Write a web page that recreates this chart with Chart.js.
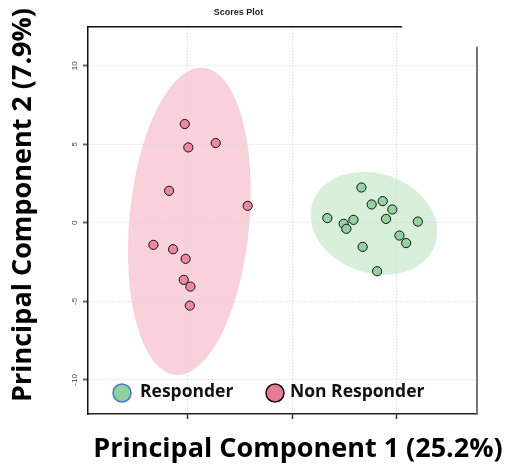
<!DOCTYPE html>
<html>
<head>
<meta charset="utf-8">
<script src="https://cdn.jsdelivr.net/npm/chart.js@4/dist/chart.umd.min.js"></script>
<style>
  html, body { margin: 0; padding: 0; background: #ffffff; }
  #wrap { width: 522px; height: 472px; position: relative; }
</style>
</head>
<body>
<div id="wrap"><canvas id="c" width="522" height="472"></canvas></div>
<script>
// ---- data ----
const groupLabels = ["Responder", "Non Responder"];
const responderX = [3.30, 3.79, 4.32, 4.78, 4.48, 1.67, 2.92, 2.45, 2.58, 6.00, 5.12, 5.44, 3.36, 4.05];
const responderY = [2.25, 1.17, 1.38, 0.85, 0.25, 0.30, 0.19, -0.06, -0.38, 0.08, -0.81, -1.29, -1.53, -3.08];
const nonResponderX = [-5.15, -4.98, -3.67, -5.90, -2.14, -6.65, -5.71, -5.11, -5.20, -4.88, -4.91];
const nonResponderY = [6.29, 4.80, 5.08, 2.04, 1.08, -1.40, -1.68, -2.29, -3.63, -4.06, -5.27];
const yTickValues = [-10, -5, 0, 5, 10];
const xTickValues = [-5, 0, 5];
const xRange = [-9.78, 8.83];
const yRange = [-12.17, 12.48];
// confidence ellipses: centre, and two conjugate semi-axis vectors (data units)
const responderEllipse = { cx: 3.90, cy: -0.03, ux: 2.94, uy: -1.31, vx: -0.75, vy: -3.01 };
const nonResponderEllipse = { cx: -4.93, cy: 0.10, ux: 0.67, uy: 9.78, vx: 2.86, vy: -0.34 };
const titleText = "Scores Plot";
const xTitle = "Principal Component 1 (25.2%)";
const yTitle = "Principal Component 2 (7.9%)";

const toPoints = (xs, ys) => xs.map((x, i) => ({ x: x, y: ys[i] }));

const greenFill = '#93d3a0', pinkFill = '#ee879f';
const greenEll = '#d8efdb', pinkEll = '#f9d1db';
const bigFont = '"Open Sans", Lato, sans-serif';

function drawEllipse(ctx, xs, ys, e, color) {
  const cx = xs.getPixelForValue(e.cx), cy = ys.getPixelForValue(e.cy);
  const ux = xs.getPixelForValue(e.cx + e.ux) - cx, uy = ys.getPixelForValue(e.cy + e.uy) - cy;
  const vx = xs.getPixelForValue(e.cx + e.vx) - cx, vy = ys.getPixelForValue(e.cy + e.vy) - cy;
  ctx.save();
  ctx.transform(ux, uy, vx, vy, cx, cy);
  ctx.beginPath();
  ctx.arc(0, 0, 1, 0, Math.PI * 2);
  ctx.restore();
  ctx.save();
  ctx.fillStyle = color;
  ctx.fill();
  ctx.restore();
}

const overlay = {
  id: 'overlay',
  beforeDraw(chart) {
    const { ctx, scales } = chart;
    drawEllipse(ctx, scales.x, scales.y, nonResponderEllipse, pinkEll);
    drawEllipse(ctx, scales.x, scales.y, responderEllipse, greenEll);
  },
  afterDraw(chart) {
    const { ctx, chartArea: a, scales } = chart;
    ctx.save();
    // remaining frame sides
    ctx.strokeStyle = '#111'; ctx.lineWidth = 1.5;
    ctx.beginPath(); ctx.moveTo(a.left, a.top); ctx.lineTo(a.left + (a.right - a.left) * 0.807, a.top); ctx.stroke();
    ctx.strokeStyle = '#777'; ctx.lineWidth = 2;
    ctx.beginPath(); ctx.moveTo(a.right, a.top + 20); ctx.lineTo(a.right, a.bottom); ctx.stroke();
    // y tick labels (rotated)
    ctx.fillStyle = '#444';
    ctx.font = '8px "Liberation Sans", Arial, sans-serif';
    ctx.textAlign = 'center'; ctx.textBaseline = 'middle';
    yTickValues.forEach(v => {
      const py = scales.y.getPixelForValue(v);
      ctx.save(); ctx.translate(a.left - 13, py); ctx.rotate(-Math.PI / 2);
      ctx.fillText(String(v), 0, 0); ctx.restore();
    });
    // axis titles
    ctx.fillStyle = '#000';
    ctx.font = 'bold 27px ' + bigFont;
    ctx.textAlign = 'center'; ctx.textBaseline = 'middle';
    ctx.fillText(xTitle, 298, 449);
    ctx.save(); ctx.translate(23, 205); ctx.rotate(-Math.PI / 2);
    ctx.fillText(yTitle, 0, 0); ctx.restore();
    // legend
    const items = [
      { label: groupLabels[0], fill: '#8fd19c', stroke: '#4a78c8', cx: 122, tx: 140 },
      { label: groupLabels[1], fill: '#e97a95', stroke: '#111', cx: 275, tx: 290 }
    ];
    ctx.font = 'bold 17.5px ' + bigFont;
    ctx.textAlign = 'left';
    items.forEach(it => {
      ctx.beginPath(); ctx.arc(it.cx, 393, 9, 0, Math.PI * 2);
      ctx.fillStyle = it.fill; ctx.fill();
      ctx.lineWidth = 1.5; ctx.strokeStyle = it.stroke; ctx.stroke();
      ctx.fillStyle = '#111';
      ctx.fillText(it.label, it.tx, 392);
    });
    ctx.restore();
  }
};

new Chart(document.getElementById('c'), {
  type: 'scatter',
  data: {
    datasets: [
      { label: groupLabels[1], data: toPoints(nonResponderX, nonResponderY),
        backgroundColor: pinkFill, borderColor: '#111', borderWidth: 1, pointRadius: 4.6 },
      { label: groupLabels[0], data: toPoints(responderX, responderY),
        backgroundColor: greenFill, borderColor: '#111', borderWidth: 1, pointRadius: 4.6 }
    ]
  },
  options: {
    responsive: false,
    animation: false,
    events: [],
    layout: { padding: { left: 0, right: 45, top: 0, bottom: 0 } },
    plugins: {
      legend: { display: false },
      tooltip: { enabled: false },
      title: {
        display: true, text: titleText, color: '#222',
        font: { family: '"Liberation Sans", Arial, sans-serif', size: 9, weight: 'bold', lineHeight: 1.2 },
        padding: { top: 7, bottom: 9 }
      }
    },
    scales: {
      x: {
        type: 'linear', min: xRange[0], max: xRange[1],
        afterBuildTicks: s => { s.ticks = xTickValues.map(v => ({ value: v })); },
        afterFit: s => { s.height = 58; },
        ticks: { display: false },
        grid: { color: '#d2d2d2', lineWidth: 1, drawTicks: true, tickLength: 5, tickColor: '#333', tickWidth: 1.5, tickBorderDash: [] },
        border: { display: true, color: '#222', width: 1.5, dash: [1, 2] }
      },
      y: {
        type: 'linear', min: yRange[0], max: yRange[1],
        afterBuildTicks: s => { s.ticks = yTickValues.map(v => ({ value: v })); },
        afterFit: s => { s.width = 88; },
        ticks: { display: false },
        grid: { color: '#d2d2d2', lineWidth: 1, drawTicks: true, tickLength: 5, tickColor: '#666', tickWidth: 2, tickBorderDash: [] },
        border: { display: true, color: '#111', width: 1.5, dash: [1, 2] }
      }
    }
  },
  plugins: [overlay]
});
</script>
</body>
</html>
